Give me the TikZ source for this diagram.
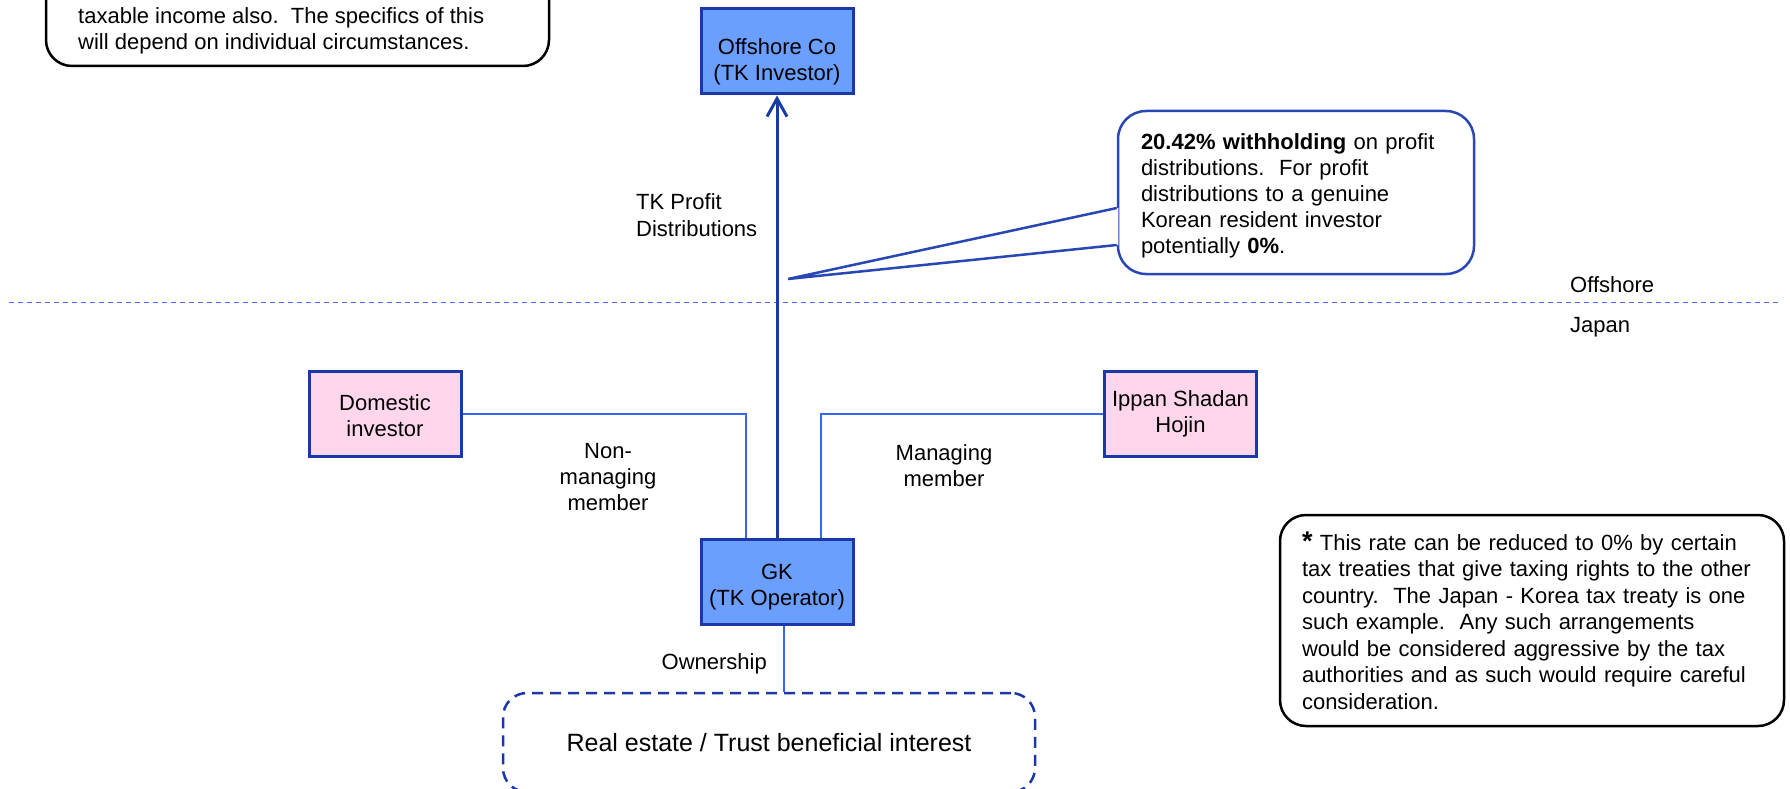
\documentclass[tikz,border=0pt]{standalone}
\usepackage{fontspec}
\setmainfont{Liberation Sans}
\usetikzlibrary{arrows.meta,calc}
\definecolor{entfill}{RGB}{106,158,255}
\definecolor{entedge}{RGB}{28,56,168}
\definecolor{pinkfill}{RGB}{255,214,236}
\definecolor{linkblue}{RGB}{51,102,255}
\definecolor{flowblue}{RGB}{24,60,160}
\definecolor{borderblue}{RGB}{72,110,230}
\definecolor{calloutedge}{RGB}{40,70,180}
% invisible first-line strut that lowers a node's text block
\newcommand{\lowerby}[1]{\rule{0pt}{#1}}
\begin{document}
\begin{tikzpicture}[x=1pt,y=-1pt,
  ent/.style={draw=entedge, line width=3pt, minimum width=152pt, minimum height=85pt,
    inner sep=0pt, align=center, font=\fontsize{22}{25.5}\selectfont},
  link/.style={draw=linkblue, line width=1.5pt},
  flow/.style={draw=flowblue, line width=3pt, -{Straight Barb[length=18pt,width=20pt]}},
  lbl/.style={inner sep=0pt, align=center, font=\fontsize{22}{26}\selectfont},
  notebox/.style={draw=black, line width=2.5pt, rounded corners=26pt, fill=white},
  calloutbox/.style={draw=calloutedge, line width=2.5pt, rounded corners=28pt, fill=white},
  rebox/.style={draw=entedge, line width=2.5pt, dash pattern=on 11pt off 7pt,
    rounded corners=24pt, minimum width=532pt, minimum height=99pt,
    font=\fontsize{25}{30}\selectfont},
  frontier/.style={draw=borderblue, line width=1.5pt, dash pattern=on 5pt off 4pt}]
\useasboundingbox (0,0) rectangle (1790,789);

% offshore / Japan frontier
\draw[frontier] (9,302.5) -- (1779,302.5);
\node[lbl, anchor=west] (offlbl) at (1570,285) {Offshore};
\node[lbl, anchor=west] (jplbl) at (1570,327) {Japan};

% top-left note, cut by the page edge
\draw[notebox] (46,-60) rectangle (549,66);
\node[lbl, align=left, anchor=north west] (ntoptext) at (78,7.5)
  {taxable income also.\ \ The specifics of this\\will depend on individual circumstances.};

% entities
\node[ent, fill=entfill] (offco) at (777,51.5) {\lowerby{37pt}Offshore Co\\(TK Investor)};
\node[ent, fill=entfill] (gk) at (777,581.5) {\lowerby{27pt}GK\\(TK Operator)};
\node[ent, fill=pinkfill] (dom) at (385,414) {\lowerby{19pt}Domestic\\investor};
\node[ent, fill=pinkfill] (ippan) at (1180.5,414) {Ippan Shadan\\Hojin\rule[-4pt]{0pt}{0pt}};
\node[rebox] (re) at (769,742.5) {Real estate / Trust beneficial interest};

% members and ownership
\draw[link] (dom.east) -| ([xshift=-31pt]gk.north);
\draw[link] (ippan.west) -| ([xshift=44pt]gk.north);
\draw[link] ([xshift=7pt]gk.south) -- ([xshift=7pt]gk.south |- re.north);
\node[lbl] (nonmm) at (608,477) {Non-\\managing\\member};
\node[lbl] (mm) at (944,466) {Managing\\member};
\node[lbl, anchor=east] (own) at (767,664) {Ownership};

% profit distributions
\draw[flow] (gk.north) -- (offco.south);
\node[lbl, align=left, anchor=north west, font=\fontsize{22}{27}\selectfont] (tkpd) at (636,193)
  {TK Profit\\Distributions};

% withholding callout
\node[calloutbox, minimum width=356pt, minimum height=163pt, text width=310pt,
  align=left, inner sep=0pt, font=\fontsize{22}{26}\selectfont] (wht) at (1296,192.5)
  {\lowerby{23pt}{\bfseries 20.42\% withholding} on profit\\distributions.\ \ For profit\\distributions to a genuine\\Korean resident investor\\potentially {\bfseries 0\%}.};
\coordinate (tip) at (788,279);
\fill[white] (tip) -- ($(wht.west)+(1.5,15.5)$) -- ($(wht.west)+(1.5,52.5)$) -- cycle;
\draw[draw=calloutedge, line width=2.5pt] ($(wht.west)+(0,15.5)$) -- (tip) -- ($(wht.west)+(0,52.5)$);

% treaty note
\node[notebox, minimum width=504pt, minimum height=211pt, text width=460pt,
  align=left, inner sep=0pt, font=\fontsize{22}{26.5}\selectfont] (treaty) at (1532,620.5)
  {{\fontsize{27}{26.5}\selectfont\bfseries *} This rate can be reduced to 0\% by certain\\tax treaties that give taxing rights to the other\\country.\ \ The Japan - Korea tax treaty is one\\such example.\ \ Any such arrangements\\would be considered aggressive by the tax\\authorities and as such would require careful\\consideration.};
\end{tikzpicture}
\end{document}
